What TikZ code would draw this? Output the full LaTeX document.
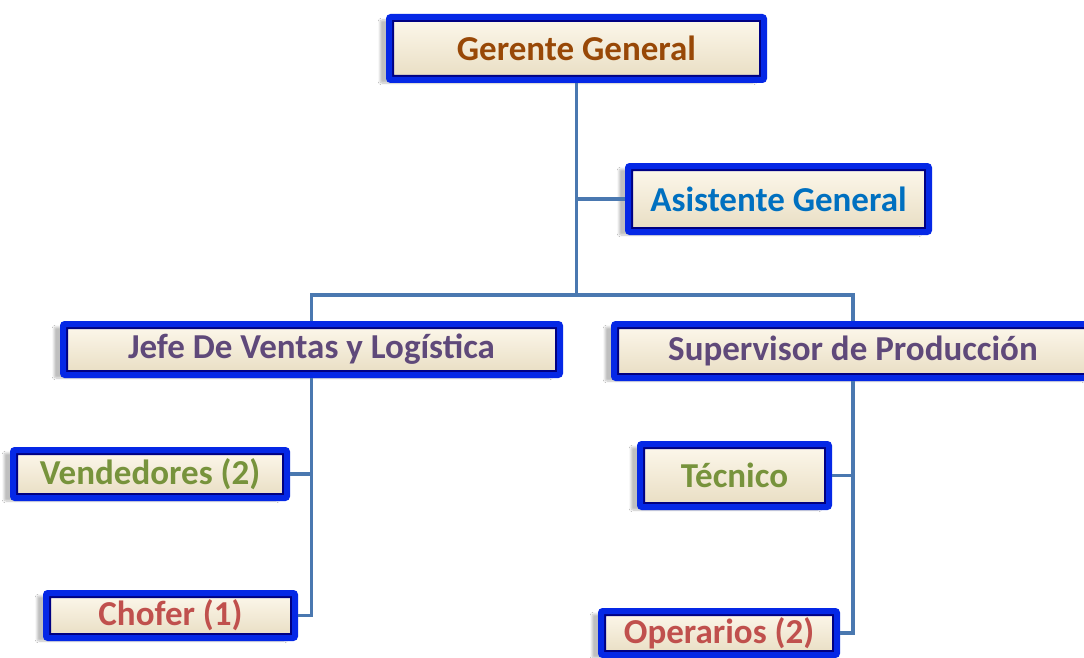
\documentclass[tikz,border=0pt]{standalone}
\usepackage{fontspec}
\setmainfont{Carlito}
\usetikzlibrary{shadows.blur}
\definecolor{bordblue}{RGB}{5,40,230}
\definecolor{bordnavy}{RGB}{0,0,130}
\definecolor{creamA}{RGB}{253,248,236}
\definecolor{creamB}{RGB}{232,221,194}
\definecolor{connblue}{HTML}{4A78B0}
\definecolor{tbrown}{HTML}{984807}
\definecolor{tblue}{HTML}{0070C0}
\definecolor{tpurple}{HTML}{5F497A}
\definecolor{tgreen}{HTML}{77933C}
\definecolor{tred}{HTML}{C0504D}
\tikzset{
  orgbox/.style={draw=bordblue, line width=6pt, rounded corners=2pt,
    top color=creamA, bottom color=creamB, inner sep=0pt,
    font=\fontsize{35}{40}\selectfont\bfseries,
    blur shadow={shadow xshift=-9pt, shadow yshift=-3pt, shadow opacity=25, shadow blur steps=8},
    path picture={\draw[bordnavy, line width=10pt]
      (path picture bounding box.south west) rectangle (path picture bounding box.north east);}},
  conn/.style={draw=connblue, line width=3.5pt}
}
\begin{document}
\begin{tikzpicture}[x=1pt,y=-1pt]
\useasboundingbox (0,0) rectangle (1084,658);
\clip (0,0) rectangle (1084,658);
\fill[white] (0,0) rectangle (1084,658);
\coordinate (bus) at (576.5,295);
\node[orgbox, text=tbrown, minimum width=375pt, minimum height=63pt] (gg) at (576.5,48.5) {Gerente General};
\node[orgbox, text=tblue, minimum width=301pt, minimum height=66pt] (ag) at (778.5,199) {Asistente General};
\node[orgbox, text=tpurple, minimum width=497pt, minimum height=51pt] (jv) at (311.5,349.5) {Jefe De Ventas y Logística};
\node[orgbox, text=tpurple, minimum width=478pt, minimum height=54pt] (sp) at (853,351) {Supervisor de Producción};
\node[orgbox, text=tgreen, minimum width=274pt, minimum height=48pt] (vd) at (150,474) {Vendedores (2)};
\node[orgbox, text=tred, minimum width=249pt, minimum height=45pt] (ch) at (170.5,615.5) {Chofer (1)};
\node[orgbox, text=tgreen, minimum width=189pt, minimum height=63pt] (tc) at (734.5,475.5) {Técnico};
\node[orgbox, text=tred, minimum width=236pt, minimum height=44pt] (op) at (719,633) {Operarios (2)};
\draw[conn] (gg.south) -- (bus);
\draw[conn] (gg.south |- ag.west) -- (ag.west);
\draw[conn] (jv.north) |- (bus) -| (sp.north);
\draw[conn] (jv.south) |- (ch.east);
\draw[conn] (jv.south |- vd.east) -- (vd.east);
\draw[conn] (sp.south) |- (op.east);
\draw[conn] (sp.south |- tc.east) -- (tc.east);
\end{tikzpicture}
\end{document}
